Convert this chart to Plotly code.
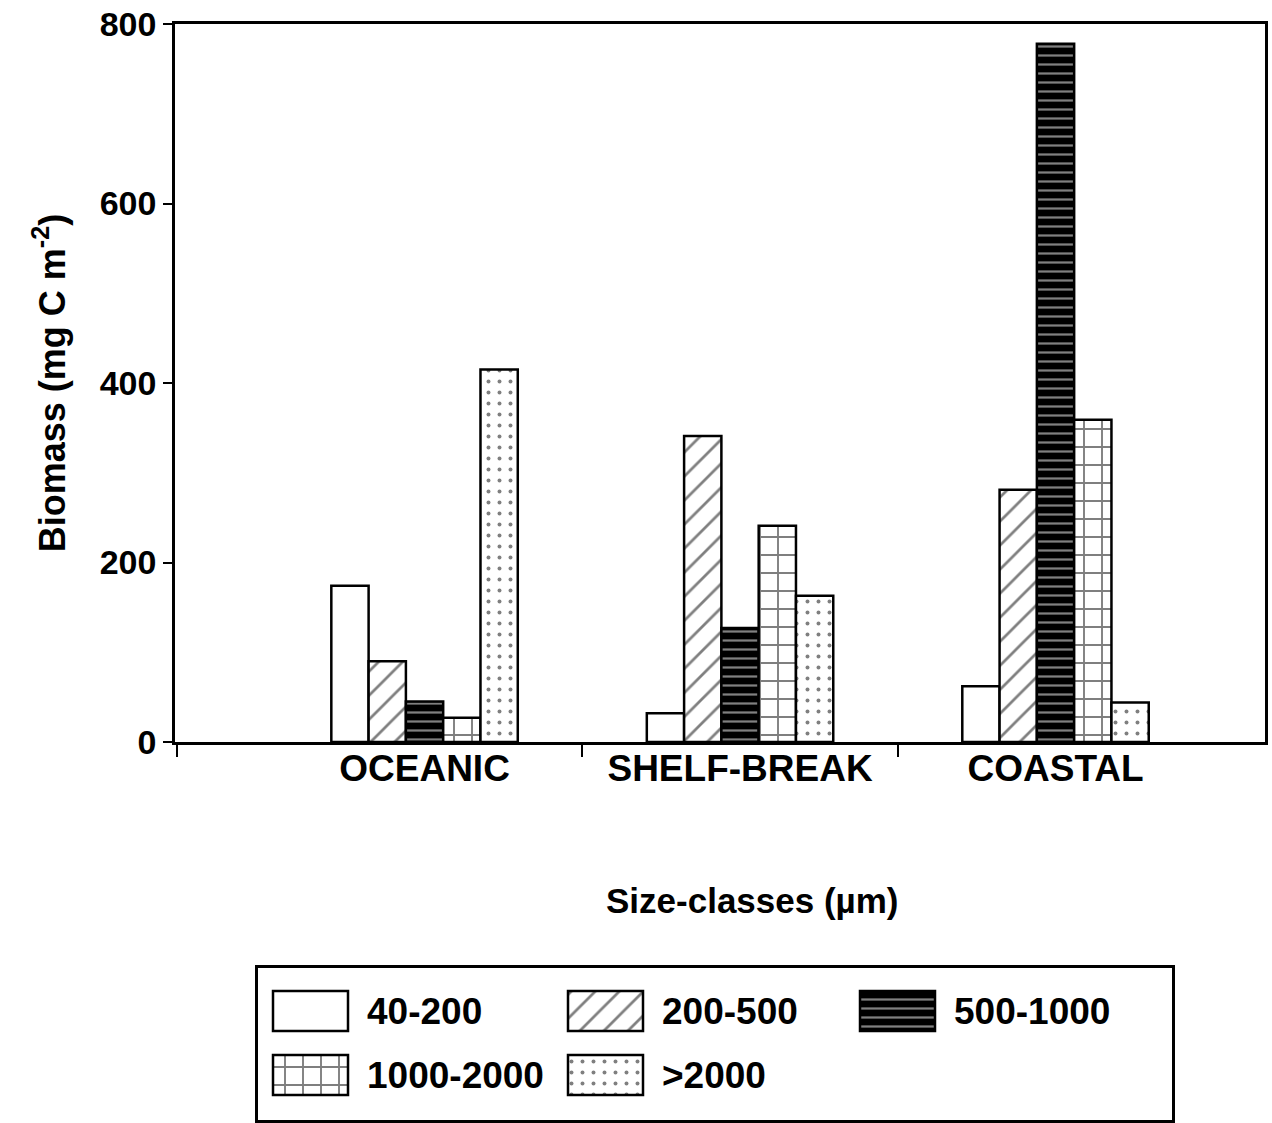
import plotly.graph_objects as go

# Biomass by station type and size class (mg C m^-2)
stations = ["OCEANIC", "SHELF-BREAK", "COASTAL"]
size_classes = ["40-200", "200-500", "500-1000", "1000-2000", ">2000"]
biomass_40_200 = [174, 32, 62]
biomass_200_500 = [90, 341, 281]
biomass_500_1000 = [45, 127, 778]
biomass_1000_2000 = [27, 241, 359]
biomass_gt_2000 = [415, 163, 44]
y_ticks = [0, 200, 400, 600, 800]

series = [biomass_40_200, biomass_200_500, biomass_500_1000,
          biomass_1000_2000, biomass_gt_2000]

# Black-and-white fill styles per size class
styles = [
    dict(color="white", pattern=dict(shape="")),
    dict(color="white", pattern=dict(shape="/", fgcolor="black", size=17,
                                      solidity=0.16, fillmode="overlay")),
    dict(color="black", pattern=dict(shape="-", fgcolor="white", size=9,
                                      solidity=0.25, fillmode="overlay")),
    dict(color="white", pattern=dict(shape="+", fgcolor="black", size=18,
                                      solidity=0.2, fillmode="overlay")),
    dict(color="white", pattern=dict(shape=".", fgcolor="black", size=11,
                                      solidity=0.1, fillmode="overlay")),
]

FONT = "Liberation Sans, Arial, sans-serif"
W, H = 1272, 1123
ML, MR, MT, MB = 175, 7, 24, 3
plot_h = H - MT - MB
plot_w = W - ML - MR


def py(px):
    """page y pixel -> paper fraction"""
    return (H - MB - px) / plot_h


def px_(x):
    """page x pixel -> paper fraction"""
    return (x - ML) / plot_w


fig = go.Figure()

idx = list(range(len(stations)))
for name, vals, st in zip(size_classes, series, styles):
    fig.add_trace(go.Bar(
        x=idx, y=vals, name=name, showlegend=False,
        marker=dict(color=st["color"], pattern=st["pattern"],
                    line=dict(color="black", width=2.5)),
        xaxis="x", yaxis="y",
    ))

# Legend box drawn on its own small axes so the swatches can carry patterns
box_left, box_right, box_top, box_bottom = 258, 1172, 968, 1120
box_w = box_right - box_left
box_h = box_bottom - box_top
sw_w, sw_h = 75, 40
cols = [15, 310, 602]
text_dx = 92
rows = [box_bottom - 1011, box_bottom - 1075]  # swatch centre heights
layout_slots = [(0, 0), (0, 1), (0, 2), (1, 0), (1, 1)]

annotations = []
for name, st, (r, c) in zip(size_classes, styles, layout_slots):
    cx = cols[c] + sw_w / 2
    cy = rows[r]
    fig.add_trace(go.Bar(
        x=[cx], y=[sw_h], base=[cy - sw_h / 2], width=[sw_w], offset=-sw_w / 2,
        showlegend=False, hoverinfo="skip",
        marker=dict(color=st["color"], pattern=st["pattern"],
                    line=dict(color="black", width=2.5)),
        xaxis="x2", yaxis="y2",
    ))
    annotations.append(dict(
        x=cols[c] + text_dx, y=cy, xref="x2", yref="y2", text=name,
        xanchor="left", yanchor="middle", showarrow=False,
        font=dict(family=FONT, size=37, color="black", weight="bold"),
    ))

annotations.append(dict(
    x=px_(752), y=py(900), xref="paper", yref="paper",
    text="Size-classes (µm)", showarrow=False,
    xanchor="center", yanchor="middle",
    font=dict(family=FONT, size=35, color="black", weight="bold"),
))

y_dom_bottom = py(742)

fig.update_layout(
    width=W, height=H,
    margin=dict(l=ML, r=MR, t=MT, b=MB, autoexpand=False),
    paper_bgcolor="white", plot_bgcolor="white",
    barmode="group", bargap=0.409, bargroupgap=0,
    annotations=annotations,
    xaxis=dict(
        domain=[0, 1], range=[-0.791, 2.664], automargin=False,
        tickmode="array", tickvals=idx, ticktext=stations, ticks="",
        ticklabelstandoff=-8,
        tickfont=dict(family=FONT, size=37, color="black", weight="bold"),
        showline=True, mirror=True, linecolor="black", linewidth=2.5,
        showgrid=False, zeroline=False, anchor="y",
        minor=dict(tickmode="array", tickvals=[-0.786, 0.5, 1.5],
                   ticks="outside", ticklen=12, tickwidth=2,
                   tickcolor="black", showgrid=False),
    ),
    yaxis=dict(
        domain=[y_dom_bottom, 1], range=[0, 800], automargin=False,
        tickmode="array", tickvals=y_ticks,
        ticktext=[str(v) for v in y_ticks],
        ticks="outside", ticklen=9, tickwidth=2, tickcolor="black",
        tickfont=dict(family=FONT, size=34, color="black", weight="bold"),
        showline=True, mirror=True, linecolor="black", linewidth=2.5,
        showgrid=False, zeroline=False, anchor="x",
        title=dict(text="Biomass (mg C m<sup>-2</sup>)", standoff=24,
                   font=dict(family=FONT, size=36, color="black",
                             weight="bold")),
    ),
    xaxis2=dict(
        domain=[px_(box_left), px_(box_right)], range=[0, box_w],
        showline=True, mirror=True, linecolor="black", linewidth=2.5,
        showticklabels=False, ticks="", showgrid=False, zeroline=False,
        anchor="y2", fixedrange=True, automargin=False,
    ),
    yaxis2=dict(
        domain=[py(box_bottom), py(box_top)], range=[0, box_h],
        showline=True, mirror=True, linecolor="black", linewidth=2.5,
        showticklabels=False, ticks="", showgrid=False, zeroline=False,
        anchor="x2", fixedrange=True, automargin=False,
    ),
    showlegend=False,
)

fig.write_html("out.html")
